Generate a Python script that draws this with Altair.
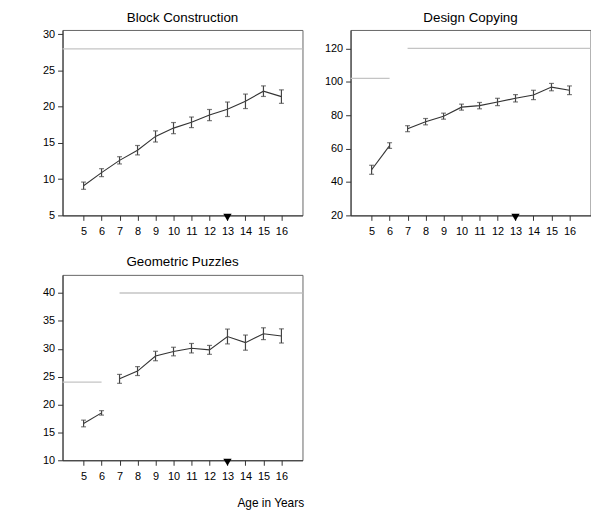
import altair as alt
import pandas as pd

ages = [5, 6, 7, 8, 9, 10, 11, 12, 13, 14, 15, 16]

block_mean = [9.1, 10.9, 12.6, 14.0, 15.9, 17.05, 17.85, 18.85, 19.65, 20.75, 22.15, 21.4]
block_err = [0.5, 0.55, 0.5, 0.65, 0.77, 0.77, 0.73, 0.77, 1.0, 1.0, 0.73, 0.93]
block_seg = ["a"] * 12
block_norm_start = [0]
block_norm_end = [20]
block_norm_val = [28]

design_mean = [47.3, 61.8, 71.9, 76.1, 79.4, 84.8, 85.7, 87.9, 90.1, 92.1, 96.8, 94.9]
design_err = [2.7, 1.7, 1.8, 1.9, 1.8, 1.8, 1.9, 2.2, 2.2, 2.8, 2.2, 2.6]
design_seg = ["a", "a"] + ["b"] * 10
design_norm_start = [0, 7]
design_norm_end = [6, 20]
design_norm_val = [102, 120]

geo_mean = [16.6, 18.5, 24.6, 26.0, 28.7, 29.5, 30.1, 29.8, 32.2, 31.1, 32.7, 32.3]
geo_err = [0.6, 0.4, 0.8, 0.8, 0.85, 0.77, 0.85, 0.8, 1.33, 1.36, 1.06, 1.27]
geo_seg = ["a", "a"] + ["b"] * 10
geo_norm_start = [0, 7]
geo_norm_end = [6, 20]
geo_norm_val = [24, 40]

marker_age = [13]
x_axis_title = "Age in Years"

XDOM = [3.83, 17.17]
FONT = "Liberation Sans"
W, H = 242, 187


def panel(title, means, errs, segs, ns, ne, nv, ydom, yticks, footer=None):
    df = pd.DataFrame({
        "age": ages,
        "mean": means,
        "lo": [m - e for m, e in zip(means, errs)],
        "hi": [m + e for m, e in zip(means, errs)],
        "seg": segs,
    })
    xscale = alt.Scale(domain=XDOM, nice=False, zero=False)
    xaxis = alt.Axis(values=ages, title=None, labelFlush=False, labelOverlap=False)
    xenc = alt.X("age:Q", scale=xscale, axis=xaxis)
    yscale = alt.Scale(domain=ydom, nice=False, zero=False)
    yaxis = alt.Axis(values=yticks, title=None, labelOverlap=False)

    norm_df = pd.DataFrame({"x0": ns, "x1": ne, "v": nv})
    norm = alt.Chart(norm_df).mark_rule(color="#c4c4c4", strokeWidth=1.3, clip=True).encode(
        x=alt.X("x0:Q", scale=xscale, axis=xaxis),
        x2="x1:Q",
        y=alt.Y("v:Q", scale=yscale, axis=yaxis),
    )
    base = alt.Chart(df)
    line = base.mark_line(color="#333333", strokeWidth=1.1).encode(
        x=xenc, y=alt.Y("mean:Q", scale=yscale, axis=yaxis), detail="seg:N"
    )
    err = base.mark_errorbar(ticks={"size": 5}, color="#444444", thickness=1.2).encode(
        x=xenc, y=alt.Y("lo:Q", scale=yscale, axis=yaxis), y2="hi:Q"
    )
    tri_df = pd.DataFrame({"age": marker_age, "y": [ydom[0]]})
    tri = alt.Chart(tri_df).mark_point(shape="triangle-down", filled=True, color="black",
                                        opacity=1, size=70, yOffset=2, clip=False).encode(
        x=xenc, y=alt.Y("y:Q", scale=yscale, axis=yaxis)
    )
    ttl = alt.Chart(pd.DataFrame({"t": [title]})).mark_text(
        font=FONT, fontSize=13.5, color="black", align="center", baseline="middle"
    ).encode(text="t:N", x=alt.value(W / 2), y=alt.value(-12.5))
    layers = [norm, line, err, tri, ttl]
    if footer:
        ft = alt.Chart(pd.DataFrame({"t": [footer]})).mark_text(
            font=FONT, fontSize=12, color="black", align="center", baseline="middle"
        ).encode(text="t:N", x=alt.value(210), y=alt.value(230))
        layers.append(ft)
    return alt.layer(*layers).properties(width=W, height=H)


p1 = panel("Block Construction", block_mean, block_err, block_seg,
           block_norm_start, block_norm_end, block_norm_val, [5, 30.6], [5, 10, 15, 20, 25, 30])
p2 = panel("Design Copying", design_mean, design_err, design_seg,
           design_norm_start, design_norm_end, design_norm_val, [20, 131], [20, 40, 60, 80, 100, 120])
p3 = panel("Geometric Puzzles", geo_mean, geo_err, geo_seg,
           geo_norm_start, geo_norm_end, geo_norm_val, [10, 43.25], [10, 15, 20, 25, 30, 35, 40],
           footer=x_axis_title)

chart = alt.concat(p1, p2, p3, columns=2, bounds="flush",
                   spacing={"row": 60, "column": 48.5}).properties(
    padding={"left": 34, "top": 0, "right": 0, "bottom": 0},
).configure_view(
    stroke="#666666", strokeWidth=1
).configure_axis(
    grid=False, labelFont=FONT, labelFontSize=11, labelColor="black",
    domainColor="#333333", tickColor="#333333", tickSize=5, labelPadding=3,
).configure_axisX(labelPadding=5)

chart.save("out.html", embed_options={"renderer": "svg", "actions": False})
